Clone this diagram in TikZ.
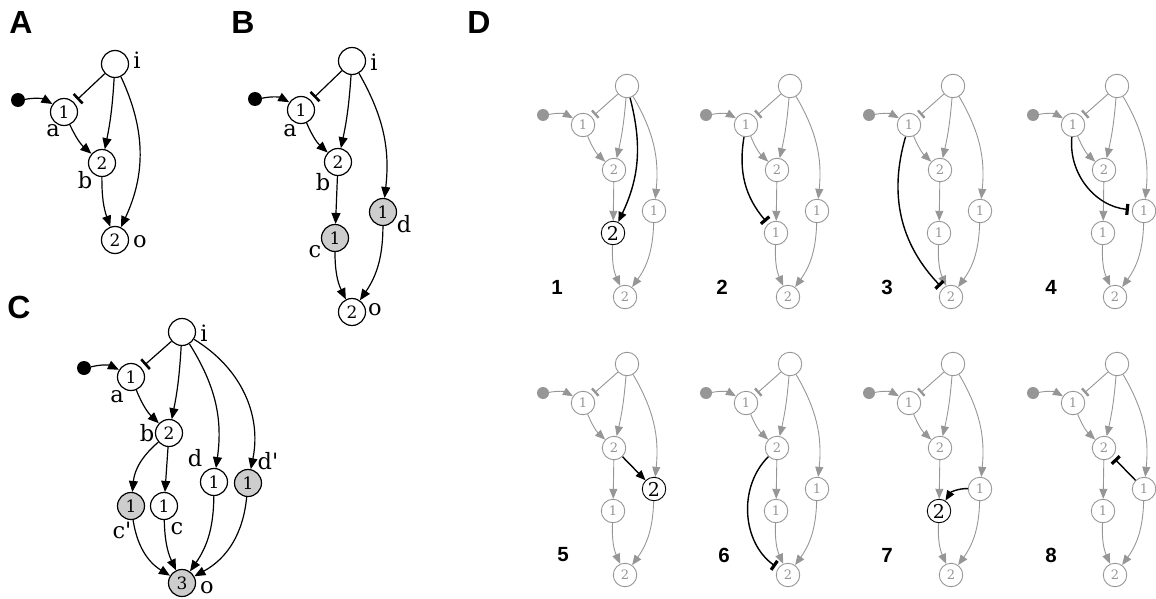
\documentclass[tikz,border=0pt]{standalone}
\usepackage{fontspec}
\setmainfont{DejaVu Serif}
\setsansfont{Liberation Sans}
\usetikzlibrary{arrows.meta}
\definecolor{mgray}{RGB}{150,150,150}
\definecolor{nfill}{RGB}{205,205,205}
\newcommand\fNode{\fontsize{17}{17}\selectfont}
\newcommand\fLab{\fontsize{22.5}{22.5}\selectfont}
\newcommand\fPanel{\sffamily\bfseries\fontsize{32}{32}\selectfont}
\newcommand\fSubp{\sffamily\bfseries\fontsize{20.5}{20.5}\selectfont}
\newcommand\fMini{\fontsize{13}{13}\selectfont}
\newcommand\fMiniBig{\fontsize{19}{19}\selectfont}
\tikzset{
  nd/.style={circle, draw, line width=1.2pt, minimum size=27pt, inner sep=0pt, font=\fNode},
  gnd/.style={nd, fill=nfill},
  dotn/.style={circle, fill, inner sep=0pt, minimum size=14pt},
  lab/.style={font=\fLab, inner sep=0pt},
  ed/.style={line width=1.2pt, -{Triangle[length=11pt,width=9pt]}},
  inh/.style={line width=1.2pt, shorten >=4pt, -{Bar[width=13pt,line width=2.6pt]}},
  panel/.style={font=\fPanel, inner sep=0pt},
  subp/.style={font=\fSubp, inner sep=0pt},
  mnode/.style={circle, draw=mgray, line width=0.9pt, minimum size=23.5pt, inner sep=0pt, text=mgray, font=\fMini},
  mhl/.style={mnode, draw=black, text=black, font=\fMiniBig},
  mdot/.style={circle, fill=mgray, minimum size=12pt, inner sep=0pt},
  med/.style={draw=mgray, line width=0.9pt, -{Triangle[length=10pt,width=8pt,fill=mgray]}},
  minh/.style={draw=mgray, line width=0.9pt, shorten >=3pt, -{Bar[width=10pt,line width=2.4pt]}},
  bed/.style={draw=black, line width=1.4pt, -{Triangle[length=10pt,width=8pt]}},
  binh/.style={draw=black, line width=1.4pt, shorten >=3pt, -{Bar[width=11pt,line width=3.2pt]}},
}
% #1 prefix, #2 x, #3 y, #4 style of c, #5 text of c, #6 style of d, #7 text of d
\newcommand\minig[7]{%
  \begin{scope}[shift={(#2,#3)}]
    \node[mnode] (#1i) at (0,0) {};
    \node[mdot] (#1dot) at (-84,-29) {};
    \node[mnode] (#1a) at (-44,-39) {1};
    \node[mnode] (#1b) at (-13,-84) {2};
    \node[#4] (#1c) at (-14,-147) {#5};
    \node[#6] (#1d) at (27,-125) {#7};
    \node[mnode] (#1o) at (-2,-211) {2};
  \end{scope}
  \draw[med] (#1dot) to[bend left=20] (#1a);
  \draw[minh] (#1i) -- (#1a);
  \draw[med] (#1i) to[bend left=4] (#1b);
  \draw[med] (#1a) to[bend right=12] (#1b);
  \draw[med] (#1b) -- (#1c);
  \draw[med] (#1i) to[bend left=18] (#1d);
  \draw[med] (#1c) to[bend right=13] (#1o);
  \draw[med] (#1d) to[bend left=17] (#1o);}
\begin{document}
\begin{tikzpicture}[x=1pt,y=1pt]
\useasboundingbox (0,0) rectangle (1156,-599);
% ---------- Panel A ----------
\node[panel] (PA) at (21,-22) {A};
\node[nd] (Ai) at (115,-64) {};
\node[dotn] (Adot) at (18,-100) {};
\node[nd] (Aa) at (64,-112) {1};
\node[nd] (Ab) at (102,-163) {2};
\node[nd] (Ao) at (115,-240) {2};
\node[lab] (ALi) at (137,-60) {i};
\node[lab] (ALa) at (53,-131) {a};
\node[lab] (ALb) at (85,-180) {b};
\node[lab] (ALo) at (140,-242) {o};
\draw[ed] (Adot) to[bend left=20] (Aa);
\draw[inh] (Ai) -- (Aa);
\draw[ed] (Ai) to[bend left=4] (Ab);
\draw[ed] (Aa) to[bend right=12] (Ab);
\draw[ed] (Ab) to[bend right=10] (Ao);
\draw[ed] (Ai) to[bend left=25] (Ao);
% ---------- Panel B ----------
\node[panel] (PB) at (243,-22) {B};
\node[nd] (Bi) at (352,-61) {};
\node[dotn] (Bdot) at (255,-99) {};
\node[nd] (Ba) at (301,-110) {1};
\node[nd] (Bb) at (338,-162) {2};
\node[gnd] (Bc) at (335,-238) {1};
\node[gnd] (Bd) at (383,-212) {1};
\node[nd] (Bo) at (352,-312) {2};
\node[lab] (BLi) at (374,-62) {i};
\node[lab] (BLa) at (290,-131) {a};
\node[lab] (BLb) at (323,-182) {b};
\node[lab] (BLc) at (315,-252) {c};
\node[lab] (BLd) at (404,-224) {d};
\node[lab] (BLo) at (375,-310) {o};
\draw[ed] (Bdot) to[bend left=20] (Ba);
\draw[inh] (Bi) -- (Ba);
\draw[ed] (Bi) to[bend left=4] (Bb);
\draw[ed] (Ba) to[bend right=12] (Bb);
\draw[ed] (Bb) -- (Bc);
\draw[ed] (Bi) to[bend left=18] (Bd);
\draw[ed] (Bc) to[bend right=13] (Bo);
\draw[ed] (Bd) to[bend left=17] (Bo);
% ---------- Panel C ----------
\node[panel] (PC) at (19,-307) {C};
\node[nd] (Ci) at (182,-332) {};
\node[dotn] (Cdot) at (84,-368) {};
\node[nd] (Ca) at (131,-377) {1};
\node[nd] (Cb) at (169,-433) {2};
\node[gnd] (Ccp) at (131,-506) {1};
\node[nd] (Cc) at (164,-506) {1};
\node[nd] (Cd) at (214,-482) {1};
\node[gnd] (Cdp) at (248,-483) {1};
\node[gnd] (Co) at (182,-583) {3};
\node[lab] (CLi) at (204,-333) {i};
\node[lab] (CLa) at (117,-397) {a};
\node[lab] (CLb) at (147,-433) {b};
\node[lab] (CLcp) at (122,-530) {c\textquotesingle};
\node[lab] (CLc) at (177,-529) {c};
\node[lab] (CLd) at (195,-458) {d};
\node[lab] (CLdp) at (268,-461) {d\textquotesingle};
\node[lab] (CLo) at (207,-588) {o};
\draw[ed] (Cdot) to[bend left=20] (Ca);
\draw[inh] (Ci) -- (Ca);
\draw[ed] (Ci) to[bend left=4] (Cb);
\draw[ed] (Ca) to[bend right=12] (Cb);
\draw[ed] (Cb) to[bend right=22] (Ccp);
\draw[ed] (Cb) -- (Cc);
\draw[ed] (Ci) to[bend left=20] (Cd);
\draw[ed] (Ci) to[bend left=35] (Cdp);
\draw[ed] (Ccp) to[bend right=25] (Co);
\draw[ed] (Cc) to[bend right=12] (Co);
\draw[ed] (Cd) to[bend left=17] (Co);
\draw[ed] (Cdp) to[bend left=28] (Co);
% ---------- Panel D ----------
\node[panel] (PD) at (479,-22) {D};
\minig{p1}{627}{-86}{mhl}{2}{mnode}{1}
\minig{p2}{790}{-86}{mnode}{1}{mnode}{1}
\minig{p3}{953}{-86}{mnode}{1}{mnode}{1}
\minig{p4}{1117}{-86}{mnode}{1}{mnode}{1}
\minig{p5}{627}{-364}{mnode}{1}{mhl}{2}
\minig{p6}{790}{-364}{mnode}{1}{mnode}{1}
\minig{p7}{953}{-364}{mhl}{2}{mnode}{1}
\minig{p8}{1117}{-364}{mnode}{1}{mnode}{1}
\node[subp] (S1) at (557,-287) {1};
\node[subp] (S2) at (722,-287) {2};
\node[subp] (S3) at (887,-287) {3};
\node[subp] (S4) at (1051,-287) {4};
\node[subp] (S5) at (563,-555) {5};
\node[subp] (S6) at (724,-555) {6};
\node[subp] (S7) at (887,-555) {7};
\node[subp] (S8) at (1051,-555) {8};
\draw[bed] (p1i) to[bend left=20] (p1c);
\draw[binh] (p2a) to[bend right=25] (p2c);
\draw[binh] (p3a) to[bend right=30] (p3o);
\draw[binh] (p4a) to[bend right=45] (p4d);
\draw[bed] (p5b) -- (p5d);
\draw[binh] (p6b) to[bend right=50] (p6o);
\draw[bed] (p7d) to[bend right=30] (p7c);
\draw[binh] (p8d) -- (p8b);
\end{tikzpicture}
\end{document}
